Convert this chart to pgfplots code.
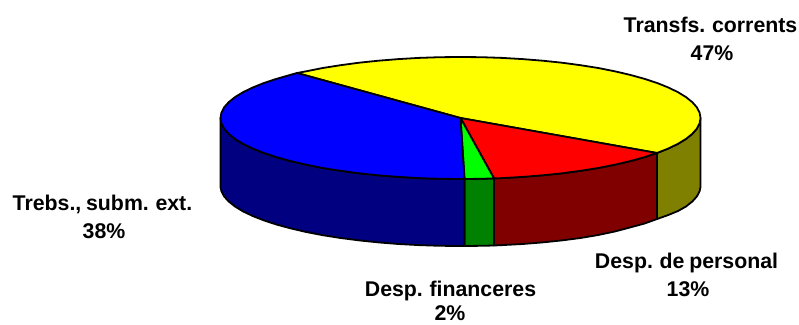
\documentclass[border=0pt]{standalone}
\usepackage{pgfplots}
\pgfplotsset{compat=1.18}
\usepackage{fontspec}
\setmainfont[WordSpace=0.8]{Liberation Sans}
\definecolor{cyellow}{HTML}{FFFF00}
\definecolor{cblue}{HTML}{0000FF}
\definecolor{cred}{HTML}{FF0000}
\definecolor{clime}{HTML}{00FF00}
\definecolor{cnavy}{HTML}{000080}
\definecolor{cgreen}{HTML}{008000}
\definecolor{cmaroon}{HTML}{800000}
\definecolor{colive}{HTML}{808000}
\tikzset{lbl/.style={font=\fontsize{21.3}{24}\selectfont\bfseries, inner sep=0pt, anchor=base}}
\begin{document}
\begin{tikzpicture}
\useasboundingbox (0,0) rectangle (799pt,324pt);
\begin{axis}[
  at={(0,0)}, anchor=south west,
  scale only axis, width=799pt, height=324pt,
  xmin=0, xmax=799, ymin=0, ymax=324, y dir=reverse,
  hide axis, clip=false,
  every axis plot/.append style={draw=black, line width=1.8pt, line join=round, mark=none},
]
% side faces
\addplot[fill=colive] coordinates {(700.5,118)(700.5,187)(699.6,191.2)(696.9,196.4)(692.3,201.5)(686,206.5)(678,211)(668.3,215)(657,219)(657,153)(668.3,148.5)(678,143.8)(686,138.9)(692.3,133.8)(696.9,128.6)(699.6,123.3)} -- cycle;
\addplot[fill=cmaroon] coordinates {(657,153)(657,219)(644.3,223.6)(630.2,227.4)(614.8,231.5)(598.2,235)(580.5,238)(561.9,240.4)(542.6,242.4)(522.6,244)(502.2,245.1)(494,245.5)(494,178.4)(502.2,178.1)(522.6,176.9)(542.6,175.3)(561.9,173.3)(580.5,170.8)(598.2,168)(614.8,164.7)(630.2,161.1)(644.3,157.2)} -- cycle;
\addplot[fill=cgreen] coordinates {(494,178.4)(494,245.5)(481.4,245.8)(464.5,246)(464.5,179)(481.4,178.8)} -- cycle;
\addplot[fill=cnavy] coordinates {(464.5,179)(464.5,246)(439.6,245.8)(418.8,245.1)(398.4,244)(378.4,242.4)(359.1,240.4)(340.5,238)(322.8,235.2)(306.2,232)(290.8,228.4)(276.7,224.6)(263.9,220.4)(252.7,216)(243,211.4)(235,206.5)(228.7,201.5)(224.1,196.4)(221.4,191.2)(220.5,187)(220.5,118)(221.4,123.3)(224.1,128.6)(228.7,133.8)(235,138.9)(243,143.8)(252.7,148.5)(263.9,153)(276.7,157.2)(290.8,161.1)(306.2,164.7)(322.8,168)(340.5,170.8)(359.1,173.3)(378.4,175.3)(398.4,176.9)(418.8,178.1)(439.6,178.8)} -- cycle;
% top faces
\addplot[fill=cyellow] coordinates {(460.5,118)(297,73)(306.2,71.3)(322.8,68)(340.5,65.2)(359.1,62.7)(378.4,60.7)(398.4,59.1)(418.8,57.9)(439.6,57.2)(460.5,57)(481.4,57.2)(502.2,57.9)(522.6,59.1)(542.6,60.7)(561.9,62.7)(580.5,65.2)(598.2,68)(614.8,71.3)(630.2,74.9)(644.3,78.8)(657.1,83)(668.3,87.5)(678,92.2)(686,97.1)(692.3,102.2)(696.9,107.4)(699.6,112.7)(700.5,118)(699.6,123.3)(696.9,128.6)(692.3,133.8)(686,138.9)(678,143.8)(668.3,148.5)(657,153)} -- cycle;
\addplot[fill=cred] coordinates {(460.5,118)(657,153)(644.3,157.2)(630.2,161.1)(614.8,164.7)(598.2,168)(580.5,170.8)(561.9,173.3)(542.6,175.3)(522.6,176.9)(502.2,178.1)(494,178.4)} -- cycle;
\addplot[fill=clime] coordinates {(460.5,118)(494,178.4)(481.4,178.8)(464.5,179)} -- cycle;
\addplot[fill=cblue] coordinates {(460.5,118)(464.5,179)(439.6,178.8)(418.8,178.1)(398.4,176.9)(378.4,175.3)(359.1,173.3)(340.5,170.8)(322.8,168)(306.2,164.7)(290.8,161.1)(276.7,157.2)(263.9,153)(252.7,148.5)(243,143.8)(235,138.9)(228.7,133.8)(224.1,128.6)(221.4,123.3)(220.5,118)(221.4,112.7)(224.1,107.4)(228.7,102.2)(235,97.1)(243,92.2)(252.7,87.5)(263.9,83)(276.7,78.8)(297,73)} -- cycle;
% labels
\node[lbl] at (axis cs:710.5,32) {Transfs. corrents};
\node[lbl] at (axis cs:712,60) {47\%};
\node[lbl] at (axis cs:102.5,210) {Trebs., subm. ext.};
\node[lbl] at (axis cs:104,238) {38\%};
\node[lbl] at (axis cs:686.5,268) {Desp. de personal};
\node[lbl] at (axis cs:688,296) {13\%};
\node[lbl] at (axis cs:450.5,296) {Desp. financeres};
\node[lbl] at (axis cs:450,320.5) {2\%};
\end{axis}
\end{tikzpicture}
\end{document}
